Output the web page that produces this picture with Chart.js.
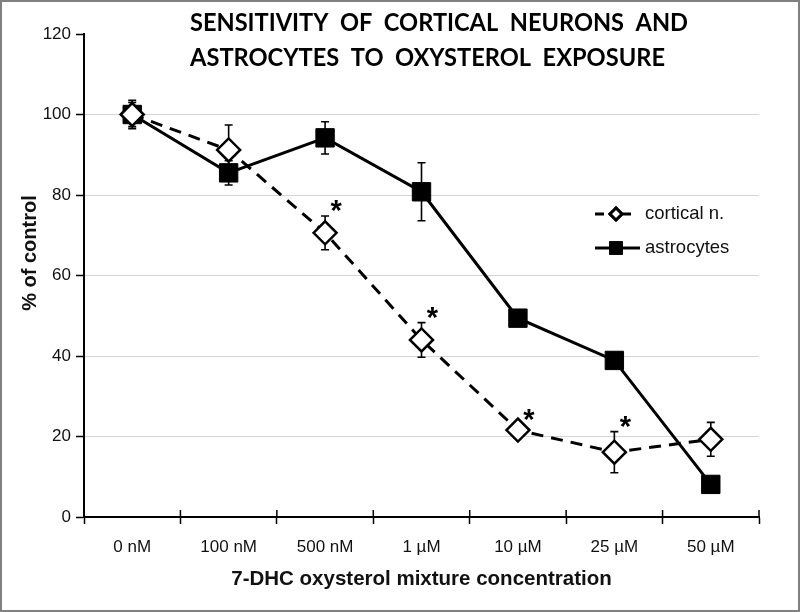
<!DOCTYPE html>
<html>
<head>
<meta charset="utf-8">
<script src="https://cdn.jsdelivr.net/npm/chart.js@4"></script>
<style>
  body { margin: 0; background: #fff; }
  #wrap { width: 800px; height: 612px; }
</style>
</head>
<body>
<div id="wrap"><canvas id="chart" width="800" height="612"></canvas></div>
<script>
// 데이터
const categories = ['0 nM', '100 nM', '500 nM', '1 µM', '10 µM', '25 µM', '50 µM'];
const cortical = [100, 91.2, 70.6, 44.0, 21.6, 16.1, 19.3];
const corticalErr = [3.5, 6.2, 4.2, 4.3, 1.0, 5.1, 4.2];
const astrocytes = [100, 85.5, 94.2, 80.8, 49.4, 38.9, 8.1];
const astrocytesErr = [3.0, 3.0, 4.0, 7.2, 1.5, 0.8, 0.8];
const starIdx = [2, 3, 4, 5]; // 유의한 차이 (cortical n.)
const titleLines = ['SENSITIVITY  OF  CORTICAL  NEURONS  AND', 'ASTROCYTES  TO  OXYSTEROL  EXPOSURE'];
const yTitle = '% of control';

const errors = [corticalErr, astrocytesErr];
const FONT = '"Liberation Sans", Arial, sans-serif';

// 에러바 그리기 (마커 뒤)
const errorBars = {
  id: 'errorBars',
  beforeDatasetsDraw(chart) {
    const ctx = chart.ctx;
    const y = chart.scales.y;
    ctx.save();
    ctx.strokeStyle = '#000';
    ctx.lineWidth = 1.6;
    chart.data.datasets.forEach((ds, di) => {
      const meta = chart.getDatasetMeta(di);
      meta.data.forEach((pt, i) => {
        const err = errors[di][i];
        const top = y.getPixelForValue(ds.data[i] + err);
        const bot = y.getPixelForValue(ds.data[i] - err);
        ctx.beginPath();
        ctx.moveTo(pt.x, top); ctx.lineTo(pt.x, bot);
        ctx.moveTo(pt.x - 4, top); ctx.lineTo(pt.x + 4, top);
        ctx.moveTo(pt.x - 4, bot); ctx.lineTo(pt.x + 4, bot);
        ctx.stroke();
      });
    });
    ctx.restore();
  }
};

// 제목, 범례, 별표, 테두리
const extras = {
  id: 'extras',
  afterDraw(chart) {
    const ctx = chart.ctx;
    const x = chart.scales.x;
    const y = chart.scales.y;
    const area = chart.chartArea;
    ctx.save();

    // x축 눈금 위쪽 연장
    ctx.strokeStyle = '#000';
    ctx.lineWidth = 1.5;
    const n = categories.length;
    for (let i = 0; i <= n; i++) {
      const px = x.left + i * (x.width / n);
      ctx.beginPath();
      ctx.moveTo(px, area.bottom - 7);
      ctx.lineTo(px, area.bottom);
      ctx.stroke();
    }

    // 별표 (에러바 위, 오른쪽)
    const meta = chart.getDatasetMeta(0);
    ctx.fillStyle = '#000';
    ctx.font = 'bold 29px ' + FONT;
    ctx.textAlign = 'center';
    ctx.textBaseline = 'alphabetic';
    starIdx.forEach(i => {
      const pt = meta.data[i];
      const top = y.getPixelForValue(cortical[i] + corticalErr[i]);
      const cy = Math.min(top - 8, pt.y - 13);
      ctx.fillText('*', pt.x + 11, cy + 12);
    });

    // 제목
    ctx.textBaseline = 'middle';
    ctx.font = 'bold 25px Lato, "Open Sans", sans-serif';
    ctx.textAlign = 'left';
    ctx.fillText(titleLines[0], 190, 23, 498);
    ctx.fillText(titleLines[1], 190, 58, 475);

    // y축 제목
    ctx.save();
    ctx.translate(30, 253);
    ctx.rotate(-Math.PI / 2);
    ctx.textAlign = 'center';
    ctx.font = 'bold 20px ' + FONT;
    ctx.fillStyle = '#111';
    ctx.fillText(yTitle, 0, 0);
    ctx.restore();

    // 범례
    const items = [
      { ds: chart.data.datasets[0], y: 214, x0: 595, x1: 631 },
      { ds: chart.data.datasets[1], y: 248, x0: 595, x1: 640 }
    ];
    items.forEach(it => {
      const ds = it.ds;
      ctx.strokeStyle = '#000';
      ctx.lineWidth = 3;
      ctx.setLineDash(ds.borderDash ? [9, 5] : []);
      ctx.beginPath();
      ctx.moveTo(it.x0, it.y);
      ctx.lineTo(it.x1, it.y);
      ctx.stroke();
      ctx.setLineDash([]);
      Chart.helpers.drawPoint(ctx, {
        pointStyle: ds.pointStyle,
        radius: ds.pointStyle === 'rect' ? 7.5 : 6,
        borderWidth: 2
      }, 616, it.y);
      ctx.fillStyle = ds.pointBackgroundColor;
      ctx.strokeStyle = '#000';
      ctx.fill();
      ctx.stroke();
      ctx.fillStyle = '#111';
      ctx.font = '18.5px ' + FONT;
      ctx.textAlign = 'left';
      ctx.fillText(ds.label, 645, it.y);
    });

    // 테두리
    ctx.strokeStyle = '#808080';
    ctx.lineWidth = 2;
    ctx.strokeRect(1, 1, 798, 610);
    ctx.restore();
  }
};

new Chart(document.getElementById('chart'), {
  type: 'line',
  data: {
    labels: categories,
    datasets: [{
      label: 'cortical n.',
      data: cortical,
      borderColor: '#000',
      borderWidth: 3,
      borderDash: [12, 8],
      pointStyle: 'rectRot',
      pointRadius: 11.5,
      pointBorderWidth: 2.5,
      pointBackgroundColor: '#fff',
      pointBorderColor: '#000',
      tension: 0
    }, {
      label: 'astrocytes',
      data: astrocytes,
      borderColor: '#000',
      borderWidth: 3,
      pointStyle: 'rect',
      pointRadius: 13,
      pointBorderWidth: 1,
      pointBackgroundColor: '#000',
      pointBorderColor: '#000',
      tension: 0
    }]
  },
  options: {
    responsive: false,
    animation: false,
    layout: { padding: { top: 34, right: 41, bottom: 0, left: 0 } },
    scales: {
      x: {
        offset: true,
        afterFit(scale) { scale.height = 95; },
        grid: { offset: true, drawOnChartArea: false, tickLength: 7, tickColor: '#000', tickWidth: 1.5 },
        border: { color: '#000', width: 2 },
        ticks: { color: '#111', padding: 13, font: { family: FONT, size: 17 } },
        title: {
          display: true,
          text: '7-DHC oxysterol mixture concentration',
          color: '#111',
          padding: { top: 0, bottom: 20 },
          font: { family: FONT, size: 20.5, weight: 'bold' }
        }
      },
      y: {
        min: 0,
        max: 120,
        afterFit(scale) { scale.width = 84; },
        grid: {
          color: c => (c.tick && (c.tick.value === 120 || c.tick.value === 0)) ? 'rgba(0,0,0,0)' : '#d4d4d4',
          lineWidth: 1,
          tickLength: 8,
          tickColor: '#000',
          tickWidth: 1.5
        },
        border: { color: '#000', width: 2 },
        ticks: { stepSize: 20, color: '#111', padding: 5, font: { family: FONT, size: 17 } },
        title: { display: false }
      }
    },
    plugins: {
      legend: { display: false },
      tooltip: { enabled: false }
    }
  },
  plugins: [errorBars, extras]
});
</script>
</body>
</html>
